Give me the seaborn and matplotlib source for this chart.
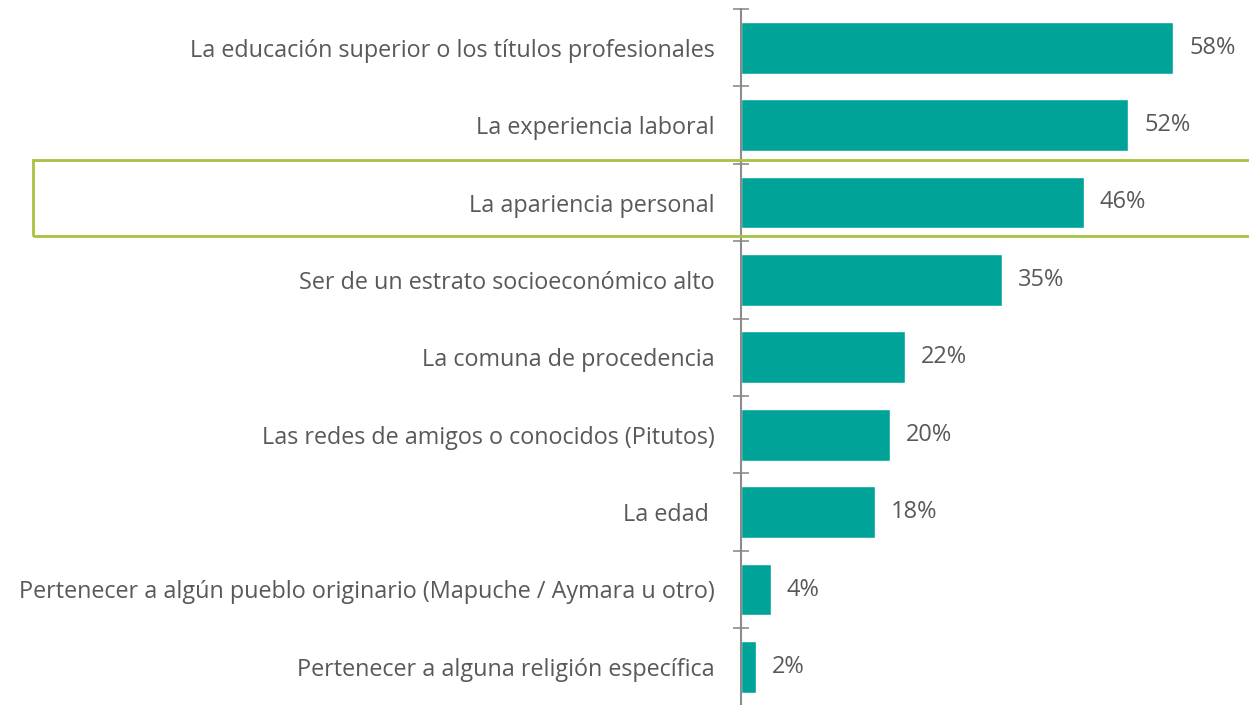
import matplotlib.pyplot as plt
import seaborn as sns
import pandas as pd
import numpy as np
from matplotlib.patches import Rectangle

categories = [
    "La educación superior o los títulos profesionales",
    "La experiencia laboral",
    "La apariencia personal",
    "Ser de un estrato socioeconómico alto",
    "La comuna de procedencia",
    "Las redes de amigos o conocidos (Pitutos)",
    "La edad ",
    "Pertenecer a algún pueblo originario (Mapuche / Aymara u otro)",
    "Pertenecer a alguna religión específica",
]
values = [58, 52, 46, 35, 22, 20, 18, 4, 2]

TEAL = "#00A398"
TEXT = "#595959"
AXIS = "#8C8C8C"

sns.set_style("white")
plt.rcParams["font.family"] = ["Open Sans", "DejaVu Sans"]

df = pd.DataFrame({"cat": categories, "val": values})

fig = plt.figure(figsize=(12.49, 7.05), dpi=100)
W, H = 1249, 705
row_h = 77.4
ax_h = row_h * len(categories)
ax = fig.add_axes([741 / W, (H - 9 - ax_h) / H, (W - 741) / W, ax_h / H])

sns.barplot(data=df, x="val", y="cat", color=TEAL, width=0.67,
            saturation=1, ax=ax, orient="h")

ax.set_xlim(0, (W - 741) / 7.45)
ax.set_ylim(len(categories) - 0.5, -0.5)
ax.set_xlabel("")
ax.set_ylabel("")
ax.set_xticks([])

for s in ["top", "right", "bottom"]:
    ax.spines[s].set_visible(False)
ax.spines["left"].set_color(AXIS)
ax.spines["left"].set_linewidth(1.5)

ax.tick_params(axis="y", which="major", left=False, length=0, pad=19,
               labelsize=16.8, labelcolor=TEXT)
ax.set_yticks(np.arange(-0.5, len(categories), 1), minor=True)
ax.tick_params(axis="y", which="minor", left=True, direction="inout",
               length=12, width=1.2, color=AXIS)

for i, v in enumerate(values):
    ax.text(v + 16 / 7.45, i, f"{v}%", va="center", ha="left",
            fontsize=17, color=TEXT)

fig.patches.append(Rectangle((33 / W, 1 - 236 / H), 1.0, 76 / H,
                             transform=fig.transFigure, fill=False,
                             edgecolor="#A9C23F", linewidth=2))

fig.savefig("out.png", dpi=100)
